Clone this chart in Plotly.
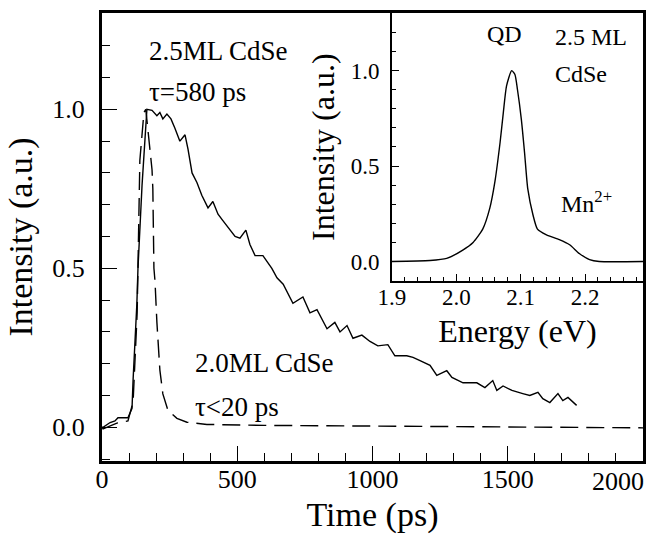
import plotly.graph_objects as go

# ---- Main panel: time-resolved PL ----
t_25ml = [0, 4, 30, 48, 59, 96, 111, 115, 129, 133, 148, 166, 185, 203, 214, 225, 240, 255, 270, 288,
          307, 318, 333, 351, 369, 392, 410, 429, 447, 473, 492, 510, 532, 547, 566, 595, 610, 628,
          647, 670, 706, 743, 769, 795, 832, 861, 880, 906, 928, 961, 991, 1020, 1057, 1083, 1127,
          1150, 1176, 1213, 1238, 1275, 1294, 1335, 1386, 1416, 1445, 1460, 1483, 1516, 1556, 1582,
          1612, 1630, 1656, 1686, 1704, 1723, 1755]
i_25ml = [0.0, 0.0, 0.015, 0.02, 0.03, 0.03, 0.06, 0.15, 0.39, 0.5, 0.76, 1.0, 0.997, 0.98, 0.99, 0.97,
          0.985, 0.97, 0.94, 0.90, 0.92, 0.875, 0.80, 0.77, 0.73, 0.69, 0.71, 0.67, 0.65, 0.62, 0.60,
          0.595, 0.62, 0.575, 0.54, 0.54, 0.52, 0.50, 0.47, 0.45, 0.39, 0.41, 0.36, 0.37, 0.31, 0.33,
          0.30, 0.32, 0.28, 0.29, 0.27, 0.256, 0.26, 0.225, 0.225, 0.22, 0.21, 0.195, 0.163, 0.178,
          0.157, 0.14, 0.14, 0.125, 0.147, 0.116, 0.13, 0.116, 0.106, 0.10, 0.11, 0.09, 0.078, 0.106,
          0.084, 0.094, 0.069]

t_20ml = [0, 4, 55, 96, 115, 130, 140, 155, 162, 170, 185, 188, 192, 196, 203, 214, 225, 244, 277, 314,
          388, 600, 800, 1200, 1600, 2000, 2060]
i_20ml = [0.0, -0.005, 0.013, 0.02, 0.08, 0.36, 0.84, 0.99, 1.0, 0.94, 0.81, 0.75, 0.5, 0.46, 0.33, 0.18,
          0.105, 0.053, 0.028, 0.016, 0.009, 0.006, 0.005, 0.002, 0.0, -0.002, -0.002]

# ---- Inset: PL spectrum ----
energy = [1.90, 1.959, 1.985, 2.010, 2.026, 2.041, 2.052, 2.060, 2.068, 2.073, 2.078, 2.086, 2.091,
          2.095, 2.101, 2.106, 2.111, 2.119, 2.126, 2.140, 2.160, 2.176, 2.191, 2.207, 2.222, 2.29]
pl = [0.0, 0.005, 0.016, 0.06, 0.10, 0.17, 0.28, 0.42, 0.625, 0.78, 0.92, 1.0, 0.98, 0.90, 0.745,
      0.57, 0.38, 0.245, 0.17, 0.14, 0.115, 0.088, 0.042, 0.01, 0.0, 0.0]

main_x_dtick, main_x_minor = 500, 100
main_y_dtick, main_y_minor = 0.5, 0.1
inset_x_dtick, inset_x_minor = 0.1, 0.02
inset_y_dtick, inset_y_minor = 0.5, 0.1
last_x_label = 2000

FONT = "Liberation Serif, DejaVu Serif, Times New Roman, serif"

fig = go.Figure()
fig.add_trace(go.Scatter(x=t_25ml, y=i_25ml, mode="lines",
                         line=dict(color="black", width=1.4), xaxis="x", yaxis="y",
                         name="2.5ML CdSe", showlegend=False))
fig.add_trace(go.Scatter(x=t_20ml, y=i_20ml, mode="lines",
                         line=dict(color="black", width=1.4, dash="18px,8px"), xaxis="x", yaxis="y",
                         name="2.0ML CdSe", showlegend=False))
fig.add_trace(go.Scatter(x=energy, y=pl, mode="lines", line=dict(color="black", width=1.4,
                         shape="spline", smoothing=0.6),
                         xaxis="x2", yaxis="y2", name="PL", showlegend=False))

TC = "black"
main_ax = dict(showgrid=False, zeroline=False, showline=True, linecolor="black", linewidth=3,
               mirror=True, ticks="inside", tickcolor=TC, tickwidth=1.4, ticklen=15,
               tickmode="linear", tickfont=dict(family=FONT, size=26, color="black"))
inset_ax = dict(showgrid=False, zeroline=False, showline=True, linecolor="black", linewidth=2,
                mirror=True, ticks="inside", tickcolor=TC, tickwidth=1.4, ticklen=7,
                tickmode="linear", tickfont=dict(family=FONT, size=23, color="black"))

def minor(d, t0, ln):
    return dict(dtick=d, tick0=t0, ticks="inside", ticklen=ln, tickwidth=1.4, tickcolor=TC, showgrid=False)

fig.update_layout(
    width=662, height=539,
    margin=dict(l=102, r=19, t=10, b=78),
    paper_bgcolor="white", plot_bgcolor="white",
    font=dict(family=FONT, color="black"),
    xaxis=dict(main_ax, domain=[0, 1], range=[0, 2000.5], tick0=0, dtick=main_x_dtick,
               minor=minor(main_x_minor, 0, 8),
               title=dict(text="Time (ps)", font=dict(family=FONT, size=34), standoff=9),
               ticklabelstandoff=-7, anchor="y"),
    yaxis=dict(main_ax, domain=[0, 1], range=[-0.106, 1.303], tick0=0, dtick=main_y_dtick, tickformat=".1f",
               minor=minor(main_y_minor, 0, 8),
               title=dict(text="Intensity (a.u.)", font=dict(family=FONT, size=34), standoff=10),
               ticklabelstandoff=9, anchor="x"),
    xaxis2=dict(inset_ax, domain=[0.536, 1], range=[1.9, 2.29], tick0=1.9, dtick=inset_x_dtick, tickformat=".1f",
                minor=minor(inset_x_minor, 1.9, 4),
                title=dict(text="Energy (eV)", font=dict(family=FONT, size=32), standoff=11),
                ticklabelstandoff=-6, anchor="y2"),
    yaxis2=dict(inset_ax, domain=[0.401, 1], range=[-0.104, 1.302], tick0=0, dtick=inset_y_dtick, tickformat=".1f",
                minor=minor(inset_y_minor, 0, 4),
                title=dict(text="Intensity (a.u.)", font=dict(family=FONT, size=32), standoff=6),
                ticklabelstandoff=6, anchor="x2"),
)

ann_font = dict(family=FONT, size=27, color="black")
inset_font = dict(family=FONT, size=24, color="black")
annotations = [
    dict(x=166, y=1.184, xref="x", yref="y", text="2.5ML CdSe", font=ann_font, xanchor="left", yanchor="middle"),
    dict(x=166, y=1.053, xref="x", yref="y", text="τ=580 ps", font=ann_font, xanchor="left", yanchor="middle"),
    dict(x=336, y=0.203, xref="x", yref="y", text="2.0ML CdSe", font=ann_font, xanchor="left", yanchor="middle"),
    dict(x=336, y=0.0625, xref="x", yref="y", text="τ<20 ps", font=ann_font, xanchor="left", yanchor="middle"),
    dict(x=2.075, y=1.19, xref="x2", yref="y2", text="QD", font=inset_font, xanchor="center", yanchor="middle"),
    dict(x=2.1496, y=1.175, xref="x2", yref="y2", text="2.5 ML", font=inset_font, xanchor="left", yanchor="middle"),
    dict(x=2.1496, y=0.985, xref="x2", yref="y2", text="CdSe", font=inset_font, xanchor="left", yanchor="middle"),
    dict(x=2.160, y=0.3125, xref="x2", yref="y2", text="Mn<sup>2+</sup>", font=inset_font, xanchor="left", yanchor="middle"),
    # last x tick label, kept inside the figure as in the reference
    dict(x=last_x_label, y=0, xref="x", yref="paper", text=str(last_x_label),
         font=dict(family=FONT, size=26, color="black"), xanchor="right", yanchor="middle",
         xshift=3, yshift=-20),
]
for a in annotations:
    a["showarrow"] = False
fig.update_layout(annotations=annotations)

fig.write_html("out.html", config={"displayModeBar": False},
               post_script="document.body.style.margin='0px';")
